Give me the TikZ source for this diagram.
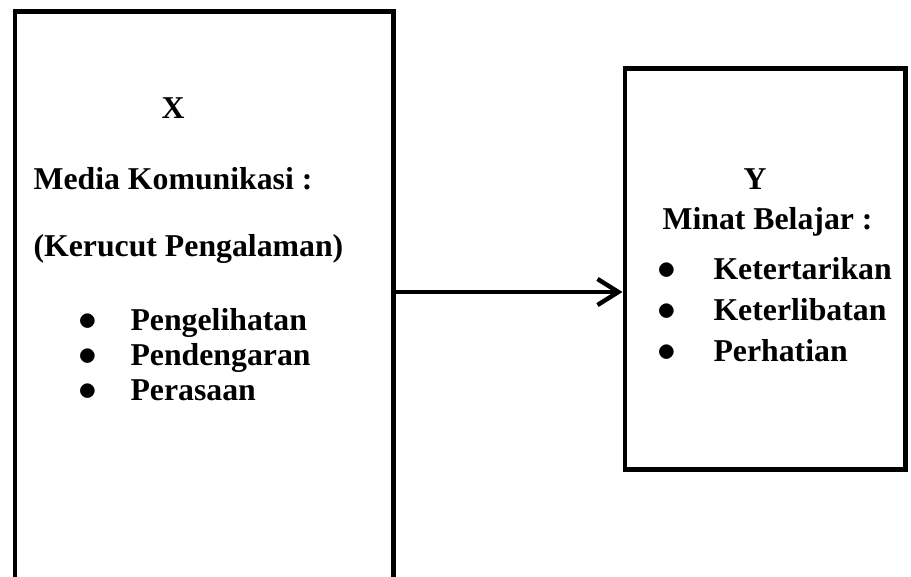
\documentclass[tikz,border=0pt]{standalone}
\usepackage{fontspec}
\setmainfont{Liberation Serif}
\usetikzlibrary{arrows.meta}

\begin{document}
\begin{tikzpicture}[x=0.384pt,y=-0.384pt,
    box/.style={draw,line width=1.9pt,inner sep=0pt,anchor=north west},
    lbl/.style={anchor=base west,inner sep=0pt,font=\fontsize{12.2}{14}\selectfont\bfseries},
    dot/.style={anchor=base,inner sep=0pt,font=\fontsize{13.5}{14}\selectfont}]
    \useasboundingbox (0,0) rectangle (911,577);
    \clip (0,0) rectangle (911,577);

    % X box
    \node[box,minimum width=145.2pt,minimum height=226.8pt] (xbox) at (12.5,9.5) {};
    \node[lbl,anchor=base] (xname) at (173,119) {X};
    \node[lbl] (xmedia) at (33,190) {Media Komunikasi :};
    \node[lbl] (xcone) at (33,257) {(Kerucut Pengalaman)};
    \node[dot] (xdot1) at (88,331) {$\bullet$};
    \node[lbl] (xsee) at (130,331) {Pengelihatan};
    \node[dot] (xdot2) at (88,366) {$\bullet$};
    \node[lbl] (xhear) at (130,366) {Pendengaran};
    \node[dot] (xdot3) at (88,401) {$\bullet$};
    \node[lbl] (xfeel) at (130,401) {Perasaan};

    % Y box
    \node[box,minimum width=107.7pt,minimum height=153.8pt] (ybox) at (622.5,66.5) {};
    \node[lbl,anchor=base] (yname) at (755,190) {Y};
    \node[lbl] (yminat) at (662,230) {Minat Belajar :};
    \node[dot] (ydot1) at (667,280) {$\bullet$};
    \node[lbl] (ylike) at (713,280) {Ketertarikan};
    \node[dot] (ydot2) at (667,321) {$\bullet$};
    \node[lbl] (yjoin) at (713,321) {Keterlibatan};
    \node[dot] (ydot3) at (667,362) {$\bullet$};
    \node[lbl] (ymind) at (713,362) {Perhatian};

    % Arrow
    \coordinate (arrowrow) at (0,292);
    \draw[line width=1.7pt,line cap=round,-{Straight Barb[length=8pt,width=10pt]}]
        (xbox.east |- arrowrow) -- (ybox.west |- arrowrow);
\end{tikzpicture}
\end{document}
